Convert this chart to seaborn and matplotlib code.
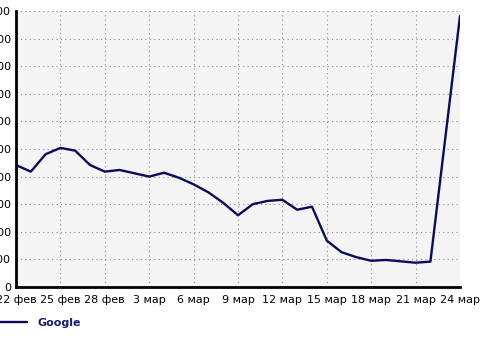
import matplotlib
matplotlib.use("Agg")
import matplotlib.pyplot as plt
import seaborn as sns
import pandas as pd
import numpy as np

# Data (23 Mar has no value; the line joins 22 Mar to 24 Mar)
dates = ["2007-02-22", "2007-02-23", "2007-02-24", "2007-02-25", "2007-02-26",
         "2007-02-27", "2007-02-28", "2007-03-01", "2007-03-02", "2007-03-03",
         "2007-03-04", "2007-03-05", "2007-03-06", "2007-03-07", "2007-03-08",
         "2007-03-09", "2007-03-10", "2007-03-11", "2007-03-12", "2007-03-13",
         "2007-03-14", "2007-03-15", "2007-03-16", "2007-03-17", "2007-03-18",
         "2007-03-19", "2007-03-20", "2007-03-21", "2007-03-22", "2007-03-24"]
google = [442, 418, 481, 504, 494, 442, 418, 424, 412, 400,
          414, 396, 372, 343, 305, 260, 300, 312, 316, 280,
          291, 168, 126, 108, 95, 98, 93, 88, 92, 982]

tick_dates = ["2007-02-22", "2007-02-25", "2007-02-28", "2007-03-03", "2007-03-06",
              "2007-03-09", "2007-03-12", "2007-03-15", "2007-03-18", "2007-03-21",
              "2007-03-24"]
tick_labels = ["22 фев", "25 фев", "28 фев", "3 мар", "6 мар", "9 мар",
               "12 мар", "15 мар", "18 мар", "21 мар", "24 мар"]
y_ticks = [0, 100, 200, 300, 400, 500, 600, 700, 800, 900, 1000]

df = pd.DataFrame({"date": pd.to_datetime(dates), "value": google, "series": "Google"})
start = pd.Timestamp("2007-02-22")
df["day"] = (df["date"] - start).dt.days
tick_pos = [(pd.Timestamp(d) - start).days for d in tick_dates]

sns.set_style("white")
plt.rcParams["font.family"] = ["DejaVu Sans"]

W, H = 481, 342
fig = plt.figure(figsize=(W / 100, H / 100), dpi=100)
ax = fig.add_axes([16 / W, 1 - 287 / H, (460 - 16) / W, (287 - 11) / H])
ax.set_facecolor("#f4f4f4")

navy = "#0b0b5c"
sns.lineplot(data=df, x="day", y="value", ax=ax, color=navy, linewidth=1.7,
             label="Google", legend=False)

ax.set_xlim(0, 30)
ax.set_ylim(0, 1000)
ax.set_xticks(tick_pos)
ax.set_xticklabels(tick_labels, fontsize=8, color="black")
ax.set_yticks(y_ticks)
ax.set_yticklabels([str(v) for v in y_ticks], fontsize=8, color="black")
ax.set_xlabel("")
ax.set_ylabel("")

ax.grid(True, color="#888888", linestyle=(0, (1, 3)), linewidth=0.8)
for s in ["top", "right"]:
    ax.spines[s].set_visible(False)
for s in ["left", "bottom"]:
    ax.spines[s].set_color("black")
    ax.spines[s].set_linewidth(2)
ax.tick_params(axis="y", which="major", length=3, width=1, color="black",
               direction="out", pad=0.5)
ax.tick_params(axis="x", which="major", length=3, width=1, color="black",
               direction="out", pad=2.5)

from matplotlib.lines import Line2D
handle = Line2D([], [], color=navy, linewidth=1.7)
leg = fig.legend([handle], ["Google"], loc="center left",
                 bbox_to_anchor=(-0.002, 1 - 323 / H), frameon=False,
                 borderpad=0, borderaxespad=0, handlelength=2.5,
                 handletextpad=1.0, prop={"weight": "bold", "size": 8})
for t in leg.get_texts():
    t.set_color("#1a1a6e")

fig.savefig("out.png", dpi=100, facecolor="white")
